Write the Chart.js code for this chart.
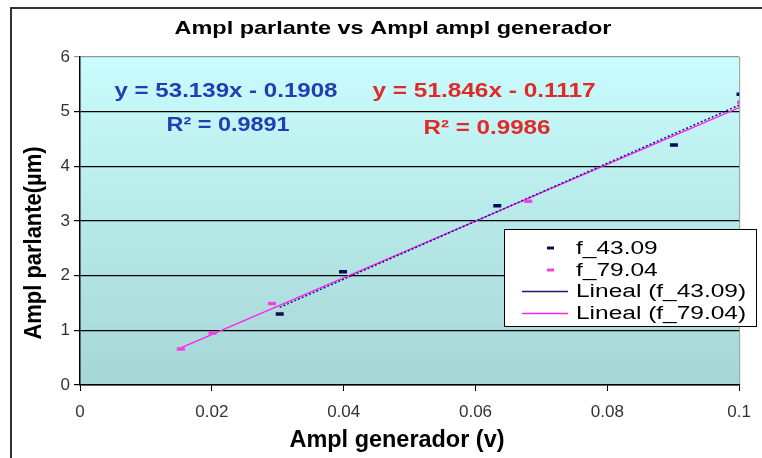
<!DOCTYPE html>
<html>
<head>
<meta charset="utf-8">
<script src="https://cdn.jsdelivr.net/npm/chart.js@4/dist/chart.umd.min.js"></script>
<style>
  html, body { margin: 0; padding: 0; background: #fff; }
  #wrap { width: 762px; height: 458px; }
</style>
</head>
<body>
<div id="wrap"><canvas id="myChart" width="762" height="458"></canvas></div>
<script>
// datos
const xTickLabels = ['0', '0.02', '0.04', '0.06', '0.08', '0.1'];
const yTickLabels = ['0', '1', '2', '3', '4', '5', '6'];

const gen43 = [0.0303, 0.0399, 0.0633, 0.0901, 0.1002];
const parl43 = [1.30, 2.07, 3.28, 4.39, 5.32];

const gen79 = [0.0153, 0.0201, 0.0291, 0.0680, 0.1003];
const parl79 = [0.66, 0.95, 1.49, 3.36, 5.17];

// extremos de las lineas de tendencia
const trendX43 = [0.0303, 0.1002];
const trendY43 = [1.42, 5.13];
const trendX79 = [0.0153, 0.1003];
const trendY79 = [0.68, 5.09];

const eq43 = ['y = 53.139x - 0.1908', 'R\u00b2 = 0.9891'];
const eq79 = ['y = 51.846x - 0.1117', 'R\u00b2 = 0.9986'];

const seriesNames = ['f_43.09', 'f_79.04', 'Lineal (f_43.09)', 'Lineal (f_79.04)'];
const chartTitle = 'Ampl parlante vs Ampl ampl generador';
const xTitle = 'Ampl generador (v)';
const yTitle = 'Ampl parlante(\u00b5m)';

const navy = '#0a0a5a';
const magenta = '#ee44dd';
const navyLine = '#1a1a80';
const magentaLine = '#ff22ee';

const normal = "'Liberation Sans', Arial, sans-serif";

function pts(xs, ys) {
    return xs.map((x, i) => ({ x: x, y: ys[i] }));
}

// texto estirado/comprimido para que ocupe un ancho dado
function fitText(ctx, text, cx, cy, width, rot) {
    const w = ctx.measureText(text).width;
    ctx.save();
    ctx.translate(cx, cy);
    if (rot) ctx.rotate(rot);
    ctx.scale(width / w, 1);
    ctx.fillText(text, 0, 0);
    ctx.restore();
}

const decoPlugin = {
    id: 'deco',
    beforeDraw(chart) {
        const { ctx, chartArea: a } = chart;
        ctx.save();
        const g = ctx.createLinearGradient(0, a.top, 0, a.bottom);
        g.addColorStop(0, '#cafcfd');
        g.addColorStop(1, '#a6d6d5');
        ctx.fillStyle = g;
        ctx.fillRect(a.left, a.top, a.right - a.left, a.bottom - a.top);
        // borde gris derecho
        ctx.strokeStyle = '#8a9a9a';
        ctx.lineWidth = 1;
        ctx.beginPath();
        ctx.moveTo(a.right + 0.5, a.top);
        ctx.lineTo(a.right + 0.5, a.bottom);
        ctx.stroke();
        // marco exterior
        ctx.strokeStyle = '#333';
        ctx.lineWidth = 2;
        ctx.beginPath();
        ctx.moveTo(11, 470);
        ctx.lineTo(11, 8);
        ctx.lineTo(770, 8);
        ctx.stroke();
        ctx.restore();
    },
    afterDraw(chart) {
        const { ctx } = chart;
        ctx.save();
        ctx.textAlign = 'center';
        ctx.textBaseline = 'alphabetic';
        ctx.fillStyle = '#000';
        ctx.font = "bold 19px " + normal;
        fitText(ctx, chartTitle, 393, 34, 437);
        ctx.font = "bold 23px " + normal;
        fitText(ctx, xTitle, 397, 447, 215);
        fitText(ctx, yTitle, 41, 243, 193, -Math.PI / 2);

        ctx.textBaseline = 'middle';
        ctx.font = "bold 20px " + normal;
        ctx.fillStyle = '#1f3fb2';
        fitText(ctx, eq43[0], 226, 91, 223);
        fitText(ctx, eq43[1], 228, 125, 123);
        ctx.fillStyle = '#e02a2a';
        fitText(ctx, eq79[0], 484, 91, 223);
        fitText(ctx, eq79[1], 487, 128, 127);

        // leyenda
        const lx = 504, ly = 229, lw = 253, lh = 98;
        ctx.fillStyle = '#fff';
        ctx.fillRect(lx, ly, lw, lh);
        ctx.strokeStyle = '#000';
        ctx.lineWidth = 1;
        ctx.strokeRect(lx + 0.5, ly + 0.5, lw - 1, lh - 1);
        const rows = [248, 270, 291, 313];
        const cols = [navy, magenta, navyLine, magentaLine];
        ctx.textAlign = 'left';
        ctx.font = "18px " + normal;
        rows.forEach((ry, i) => {
            if (i < 2) {
                ctx.fillStyle = cols[i];
                ctx.fillRect(547, ry - 1.5, 7, 3);
            } else {
                ctx.strokeStyle = cols[i];
                ctx.lineWidth = 1.5;
                ctx.beginPath();
                ctx.moveTo(522, ry + 0.5);
                ctx.lineTo(568, ry + 0.5);
                ctx.stroke();
            }
            ctx.fillStyle = '#000';
            ctx.save();
            ctx.translate(576, ry + 1);
            ctx.scale(1.36, 1);
            ctx.fillText(seriesNames[i], 0, 0);
            ctx.restore();
        });
        ctx.restore();
    }
};

const ctx = document.getElementById('myChart').getContext('2d');
const myChart = new Chart(ctx, {
    type: 'scatter',
    data: {
        datasets: [{
            label: seriesNames[0],
            data: pts(gen43, parl43),
            pointStyle: 'line',
            radius: 4,
            borderWidth: 3.5,
            borderColor: navy,
            backgroundColor: navy,
            order: 0
        }, {
            label: seriesNames[1],
            data: pts(gen79, parl79),
            pointStyle: 'line',
            radius: 4,
            borderWidth: 3.5,
            borderColor: magenta,
            backgroundColor: magenta,
            order: 1
        }, {
            label: seriesNames[2],
            data: pts(trendX43, trendY43),
            showLine: true,
            pointRadius: 0,
            borderWidth: 1.5,
            borderDash: [2, 2],
            borderColor: navyLine,
            order: 2
        }, {
            label: seriesNames[3],
            data: pts(trendX79, trendY79),
            showLine: true,
            pointRadius: 0,
            borderWidth: 1.5,
            borderColor: magentaLine,
            order: 3
        }]
    },
    options: {
        responsive: false,
        animation: false,
        layout: { padding: { top: 57, right: 16, left: 0, bottom: 0 } },
        plugins: {
            legend: { display: false },
            tooltip: { enabled: false },
            title: { display: false }
        },
        scales: {
            x: {
                type: 'linear',
                min: 0,
                max: 0.1,
                afterFit(scale) { scale.height = 73; },
                ticks: {
                    stepSize: 0.02,
                    padding: 11,
                    color: '#333',
                    font: { family: normal, size: 17 },
                    callback: (v, i) => xTickLabels[i]
                },
                grid: { drawOnChartArea: false, drawTicks: true, tickLength: 6, color: '#000' },
                border: { color: '#000', width: 1.5 }
            },
            y: {
                min: 0,
                max: 6,
                afterFit(scale) { scale.width = 80; },
                ticks: {
                    stepSize: 1,
                    padding: 4,
                    color: '#333',
                    font: { family: normal, size: 17 },
                    callback: (v, i) => yTickLabels[i]
                },
                grid: {
                    color: (c) => c.tick && c.tick.value === 6 ? '#8a9a9a' : '#000',
                    lineWidth: 1.2,
                    tickLength: 6
                },
                border: { color: '#000', width: 1.5 }
            }
        }
    },
    plugins: [decoPlugin]
});
</script>
</body>
</html>
